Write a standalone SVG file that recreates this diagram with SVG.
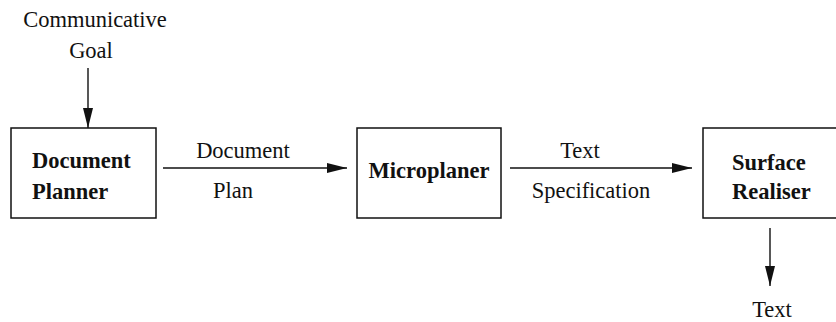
<svg xmlns="http://www.w3.org/2000/svg" width="836" height="322" viewBox="0 0 836 322">
<style>
.box{fill:#fff;stroke:#111;stroke-width:1.5}
.t{font-family:"Liberation Serif","Times New Roman",serif;font-size:22.5px;fill:#111}
.b{font-weight:bold}
.c{text-anchor:middle}
.ln{stroke:#111;stroke-width:1.4;fill:none;marker-end:url(#ah)}
</style>
<defs>
<marker id="ah" markerUnits="userSpaceOnUse" markerWidth="20" markerHeight="10" refX="20" refY="5" orient="auto">
<path d="M0,0 L20,5 L0,10 Z" fill="#111"/>
</marker>
</defs>
<rect width="836" height="322" fill="#fff"/>
<g id="connectors">
<line class="ln" x1="88" y1="68" x2="88" y2="128"/>
<line class="ln" x1="163" y1="168" x2="347" y2="168"/>
<line class="ln" x1="510" y1="168" x2="692" y2="168"/>
<line class="ln" x1="770" y1="228" x2="770" y2="286"/>
<text class="t c" x="95" y="27">Communicative</text>
<text class="t c" x="91" y="58">Goal</text>
<text class="t c" x="243" y="158">Document</text>
<text class="t c" x="233" y="198">Plan</text>
<text class="t c" x="580" y="158">Text</text>
<text class="t c" x="591" y="198">Specification</text>
<text class="t c" x="772" y="317">Text</text>
</g>
<g id="document-planner">
<rect class="box" x="11" y="128" width="145" height="90"/>
<text class="t b" x="32" y="168">Document</text>
<text class="t b" x="32" y="199">Planner</text>
</g>
<g id="microplaner">
<rect class="box" x="357" y="128" width="144" height="90"/>
<text class="t b c" x="429" y="178">Microplaner</text>
</g>
<g id="surface-realiser">
<rect class="box" x="703" y="128" width="160" height="90"/>
<text class="t b" x="732" y="170">Surface</text>
<text class="t b" x="732" y="199">Realiser</text>
</g>
</svg>
